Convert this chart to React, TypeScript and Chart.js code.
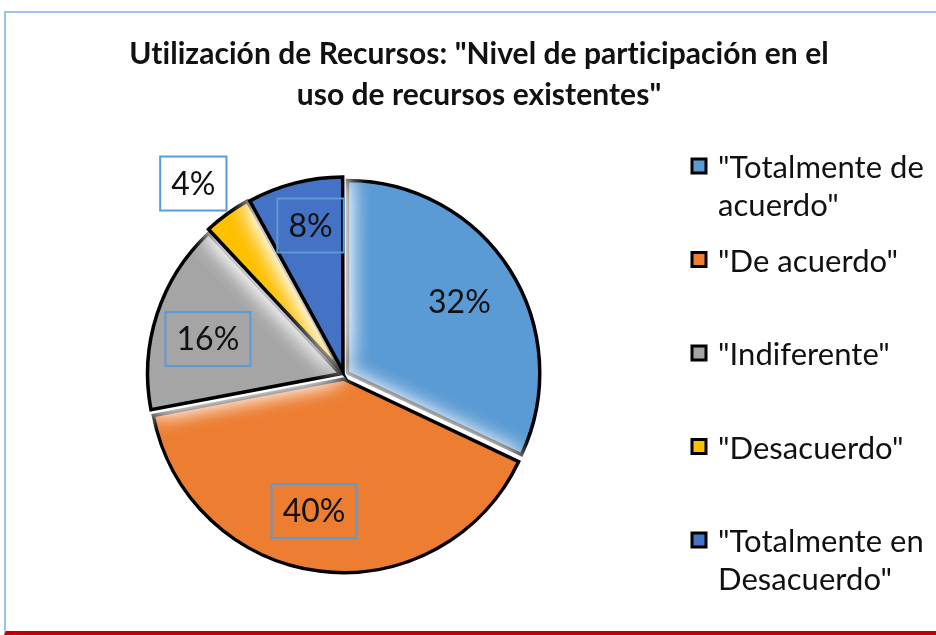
import React, { useEffect, useRef } from 'react';
import { Chart, registerables } from 'chart.js';

Chart.register(...registerables);

// ---- data ----
const categories: string[][] = [
  ['"Totalmente de', 'acuerdo"'],
  ['"De acuerdo"'],
  ['"Indiferente"'],
  ['"Desacuerdo"'],
  ['"Totalmente en', 'Desacuerdo"'],
];
const percentages = [32, 40, 16, 4, 8];
const percentLabels = ['32%', '40%', '16%', '4%', '8%'];
const titleLines = ['Utilización de Recursos: "Nivel de participación en el', 'uso de recursos existentes"'];

// ---- styles ----
const sliceColors = ['#5B9BD5', '#ED7D31', '#A5A5A5', '#FFC000', '#4472C4'];
const labelPlacement = [
  { r: 0.712, a: 0, box: false, fill: false },
  { r: 0.725, a: 5.2, box: true, fill: false },
  { r: 0.733, a: -3.2, box: true, fill: false },
  { r: 1.269, a: -2.2, box: true, fill: true },
  { r: 0.798, a: 1.8, box: true, fill: false },
];
const FONT = 'Lato, "Open Sans", sans-serif';

const glowPlugin = {
  id: 'sliceGlow',
  beforeDatasetDraw(chart: any) {
    const ctx = chart.ctx as any;
    ctx.save();
    ctx.shadowColor = 'rgba(255,255,255,1)';
    ctx.shadowBlur = 26;
    ctx.shadowOffsetX = 0;
    ctx.shadowOffsetY = 0;
    const proto = Object.getPrototypeOf(ctx);
    ctx.stroke = function (...args: any[]) {
      this.save();
      this.shadowColor = 'rgba(0,0,0,0)';
      this.shadowBlur = 0;
      proto.stroke.apply(this, args);
      this.restore();
    };
    ctx.fill = function (...args: any[]) {
      proto.fill.apply(this, args);
      proto.fill.apply(this, args);
      proto.fill.apply(this, args);
    };
  },
  afterDatasetDraw(chart: any) {
    const ctx = chart.ctx as any;
    delete ctx.stroke;
    delete ctx.fill;
    ctx.restore();
  },
};

const labelPlugin = {
  id: 'sliceLabels',
  afterDatasetsDraw(chart: any) {
    const ctx = chart.ctx as any;
    const meta = chart.getDatasetMeta(0);
    ctx.save();
    ctx.font = `32px ${FONT}`;
    ctx.letterSpacing = '0.05px';
    ctx.textAlign = 'center';
    ctx.textBaseline = 'middle';
    meta.data.forEach((arc: any, i: number) => {
      const p = arc.getProps(['x', 'y', 'startAngle', 'endAngle', 'outerRadius']);
      const pl = labelPlacement[i];
      const mid = (p.startAngle + p.endAngle) / 2 + (pl.a * Math.PI) / 180;
      const r = p.outerRadius * pl.r;
      const cx = p.x + Math.cos(mid) * r;
      const cy = p.y + Math.sin(mid) * r;
      const text = percentLabels[i];
      const w = ctx.measureText(text).width;
      if (pl.box) {
        const bw = w + 22;
        const bh = 54;
        if (pl.fill) {
          ctx.fillStyle = '#FFFFFF';
          ctx.fillRect(cx - bw / 2, cy - bh / 2, bw, bh);
        }
        ctx.strokeStyle = '#5B9BD5';
        ctx.lineWidth = 2;
        ctx.strokeRect(cx - bw / 2, cy - bh / 2, bw, bh);
      }
      ctx.fillStyle = '#111111';
      ctx.fillText(text, cx, cy + 1);
    });
    ctx.restore();
  },
};

const textPlugin = {
  id: 'titleLegend',
  afterDraw(chart: any) {
    const ctx = chart.ctx as any;
    ctx.save();
    ctx.letterSpacing = '0.05px';
    // title
    ctx.fillStyle = '#111111';
    ctx.font = `bold 30px ${FONT}`;
    ctx.textAlign = 'center';
    ctx.textBaseline = 'alphabetic';
    titleLines.forEach((line, i) => ctx.fillText(line, 479, 64 + i * 41));
    // legend
    ctx.textAlign = 'left';
    ctx.font = `31px ${FONT}`;
    const colors = chart.data.datasets[0].backgroundColor as string[];
    const labels = chart.data.labels as string[][];
    labels.forEach((lines: string[], i: number) => {
      const base = 178 + i * 93.5;
      ctx.fillStyle = colors[i];
      ctx.fillRect(692, base - 19, 14, 14);
      ctx.strokeStyle = '#000000';
      ctx.lineWidth = 3;
      ctx.strokeRect(692, base - 19, 14, 14);
      ctx.fillStyle = '#111111';
      lines.forEach((l: string, j: number) => ctx.fillText(l, 718, base + j * 37.5));
    });
    ctx.restore();
  },
};

export default function App() {
  const ref = useRef<HTMLCanvasElement>(null);
  useEffect(() => {
    if (!ref.current) return;
    const chart = new Chart(ref.current, {
      type: 'pie',
      data: {
        labels: categories as any,
        datasets: [
          {
            data: percentages,
            backgroundColor: sliceColors,
            borderColor: '#000000',
            borderWidth: 3.5,
            offset: 16,
            borderJoinStyle: 'miter',
            radius: 192,
          } as any,
        ],
      },
      options: {
        responsive: false,
        animation: false,
        radius: 192,
        layout: { padding: { left: 100, right: 348, top: 150, bottom: 35 } },
        plugins: {
          legend: { display: false },
          tooltip: { enabled: false },
          title: { display: false },
        },
      } as any,
      plugins: [glowPlugin, labelPlugin, textPlugin],
    });
    return () => chart.destroy();
  }, []);
  return (
    <div style={{ position: 'absolute', left: 0, top: 0, width: 936, height: 635, background: '#FFFFFF' }}>
      <div
        style={{
          position: 'absolute',
          left: 4,
          top: 11,
          width: 940,
          height: 624,
          boxSizing: 'border-box',
          borderTop: '2px solid #9DC3E6',
          borderLeft: '2px solid #9DC3E6',
          borderBottom: '4px solid #C00000',
        }}
      />
      <canvas ref={ref} width={936} height={635} style={{ position: 'absolute', left: 0, top: 0, display: 'block' }} />
    </div>
  );
}
